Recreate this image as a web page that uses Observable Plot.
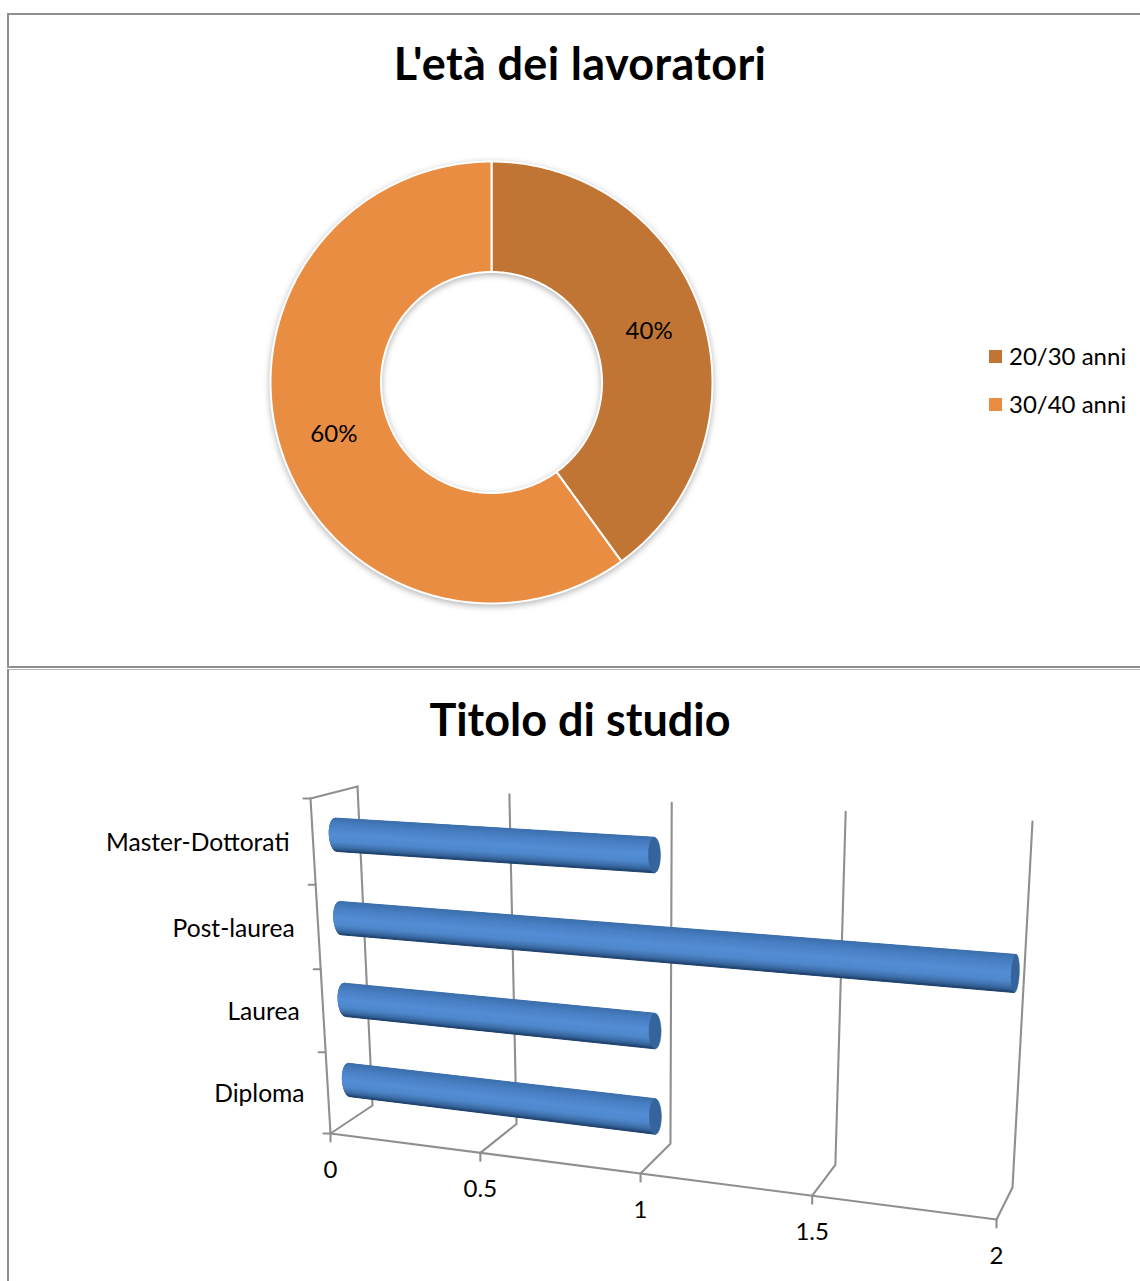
<!DOCTYPE html>
<html lang="it"><head><meta charset="utf-8">
<script src="https://cdn.jsdelivr.net/npm/d3@7"></script>
<script src="https://cdn.jsdelivr.net/npm/@observablehq/plot@0.6"></script>
<style>
html,body{margin:0;background:#fff}
#page{position:relative;width:1140px;height:1281px;overflow:hidden;font-family:Lato,sans-serif;color:#000}
.rule{position:absolute;background:#8f8f8f}
.title{position:absolute;left:0;width:1160px;text-align:center;font-weight:700;font-size:45px;line-height:50px;margin:0}
.plot{position:absolute;left:0;display:block}
#legend{position:absolute;left:989px;top:332px;font-size:24px;line-height:48px;white-space:nowrap}
#legend div{display:flex;align-items:center;height:48px}
#legend i{display:inline-block;width:13px;height:13px;margin-right:7px}
</style></head><body>
<div id="page">
  <div class="rule" style="left:7px;top:13px;width:2px;height:655px"></div>
  <div class="rule" style="left:7px;top:13px;width:1133px;height:2px"></div>
  <div class="rule" style="left:7px;top:666px;width:1133px;height:2px"></div>
  <div class="rule" style="left:7px;top:669px;width:1133px;height:1px;background:#b5b5b5"></div>
  <div class="rule" style="left:7px;top:669px;width:2px;height:612px"></div>
  <h1 class="title" style="top:38px;letter-spacing:.35px">L'età dei lavoratori</h1>
  <h1 class="title" style="top:694px">Titolo di studio</h1>
  <div id="legend"></div>
</div>
<script>
// --- data ---
const ageLabels = ["20/30 anni", "30/40 anni"];
const ageShares = [40, 60];
const ageColors = ["#c07535", "#e98d43"];
const studyLabels = ["Master-Dottorati", "Post-laurea", "Laurea", "Diploma"];
const studyValues = [1, 2, 1, 1];
const valueTicks = [0, 0.5, 1, 1.5, 2];

const page = document.getElementById("page");
const font = "Lato, sans-serif";

// --- donut ---
const holeRatio = 0.5;
const total = d3.sum(ageShares);
const slicePts = [], sliceLabels = [];
let acc = 0;
ageShares.forEach((share, i) => {
  const a0 = acc / total * 2 * Math.PI, a1 = (acc + share) / total * 2 * Math.PI;
  acc += share;
  const ring = [];
  const n = Math.ceil(share * 3);
  for (let k = 0; k <= n; k++) { const a = a0 + (a1 - a0) * k / n; ring.push([Math.sin(a), Math.cos(a)]); }
  for (let k = n; k >= 0; k--) { const a = a0 + (a1 - a0) * k / n; ring.push([holeRatio * Math.sin(a), holeRatio * Math.cos(a)]); }
  ring.push(ring[0]);
  ring.forEach(([x, y]) => slicePts.push({x, y, slice: ageLabels[i]}));
  const m = (a0 + a1) / 2, r = (1 + holeRatio) / 2;
  sliceLabels.push({x: r * Math.sin(m), y: r * Math.cos(m), text: share + "%"});
});
const donut = Plot.plot({
  width: 1140, height: 567, margin: 0,
  x: {domain: [-1, 1], range: [270, 712], axis: null},
  y: {domain: [-1, 1], range: [503, 61], axis: null},
  color: {domain: ageLabels, range: ageColors},
  style: {background: "transparent", overflow: "visible"},
  marks: [
    Plot.line(slicePts, {x: "x", y: "y", z: "slice", fill: "slice", stroke: "white", strokeWidth: 2}),
    Plot.text(sliceLabels, {x: "x", y: "y", dy: 0.5, text: "text", fontSize: 24, fontFamily: font, fill: "black"})
  ]
});
donut.classList.add("plot"); donut.style.top = "100px";
const donutGroup = donut.querySelector('g[aria-label="line"]');
if (donutGroup) donutGroup.style.filter = "drop-shadow(0 2px 3px rgba(0,0,0,.3))";
page.insertBefore(donut, document.getElementById("legend"));

const legend = document.getElementById("legend");
ageLabels.forEach((t, i) => {
  const row = document.createElement("div");
  const sw = document.createElement("i"); sw.style.background = ageColors[i];
  row.append(sw, t); legend.append(row);
});

// --- perspective axes of the 3-D bar chart ---
const plotTop = 770, maxValue = d3.max(valueTicks);
const corners = {
  fb0: [330, 1133], fb1: [996, 1219], bb0: [372, 1105], bb1: [1012, 1187],
  ft0: [310, 798],  ft1: [1011, 838], bt0: [357, 786],  bt1: [1032, 821]
};
const foreshort = 1.148, foreshortUp = 1.04;
const along = v => { const s = v / maxValue; return s / (s + (1 - s) * foreshort); };
const upward = t => t / (t + (1 - t) * foreshortUp);
const mix = (a, b, t) => [a[0] + (b[0] - a[0]) * t, a[1] + (b[1] - a[1]) * t];
// value, depth (0 front, 1 back), height (0 floor, 1 top)
function project(v, d, h) {
  const s = along(v), c = corners;
  const fb = mix(c.fb0, c.fb1, s), bb = mix(c.bb0, c.bb1, s);
  const ft = mix(c.ft0, c.ft1, s), bt = mix(c.bt0, c.bt1, s);
  const p = mix(mix(fb, bb, d), mix(ft, bt, d), h);
  return {x: p[0], y: p[1] - plotTop};
}
const catHeight = i => upward((studyLabels.length - 1 - i + 0.5) / studyLabels.length);

// grid
const grid = [];
valueTicks.forEach(v => {
  [[v,0,0],[v,1,0],[v,1,1]].forEach(q => grid.push({...project(...q), id: "g" + v}));
  const p = project(v, 0, 0);
  grid.push({x:p.x, y:p.y, id:"t"+v}, {x:p.x, y:p.y+8, id:"t"+v});
});
[[0,0,0],[maxValue,0,0]].forEach(q => grid.push({...project(...q), id: "floor"}));
[[0,0,0],[0,0,1],[0,1,1]].forEach(q => grid.push({...project(...q), id: "wall"}));
d3.range(studyLabels.length + 1).forEach(k => {
  const p = project(0, 0, upward(k / studyLabels.length));
  grid.push({x:p.x, y:p.y, id:"c"+k}, {x:p.x-7, y:p.y, id:"c"+k});
});

// cylinders
const radius = 0.051;
const shade = d3.scaleLinear()
  .domain([0, .22, .5, .72, .86, .95, 1])
  .range(["#3c6fad", "#4a80c4", "#548ed6", "#4f88cc", "#3f71ac", "#2f5a8e", "#1f3d63"])
  .interpolate(d3.interpolateRgb);
const depthWidth = v => 7 - 0.5 * v - 0.5 * v * v;
const bases = [], strips = [], caps = [];
const N = 36;
studyValues.forEach((v, i) => {
  const h = catHeight(i);
  const pt = (val, t, round) => {
    const th = Math.asin(1 - 2 * t);
    const p = project(val, 0.5, h + radius * (1 - 2 * t));
    return {x: p.x - (round ? depthWidth(val) * Math.cos(th) : 0), y: p.y};
  };
  for (let k = 0; k < N; k++) {
    const t0 = k / N, t1 = (k + 1) / N;
    const id = i + "-" + k, color = shade((t0 + t1) / 2);
    const a = pt(0, t0, true), b = pt(v, t0, false), c = pt(v, t1, false), d = pt(0, t1, true);
    [a, b, c, d, a].forEach(p => strips.push({...p, id, color}));
  }
  const outline = [];
  for (let k = 0; k <= N; k++) outline.push(pt(0, k / N, true));
  outline.push(pt(v, 1, false), pt(v, 0, false), outline[0]);
  outline.forEach(p => bases.push({...p, id: "base" + i}));
  const M = 48;
  for (let k = 0; k <= M; k++) {
    const th = k / M * 2 * Math.PI;
    const p = project(v, 0.5, h + radius * Math.sin(th));
    caps.push({x: p.x + depthWidth(v) * Math.cos(th), y: p.y, id: "cap" + i, color: "#35649d"});
  }
});

const catText = studyLabels.map((t, i) => {
  const p = project(0, 0, catHeight(i));
  return {x: p.x - 23.5, y: p.y + 1.5, t};
});
const valText = valueTicks.map(v => {
  const p = project(v, 0, 0);
  return {x: p.x, y: p.y + 36.5, t: String(v)};
});

const bars = Plot.plot({
  width: 1140, height: 511, margin: 0,
  x: {domain: [0, 1140], range: [0, 1140], axis: null},
  y: {domain: [0, 511], range: [0, 511], axis: null},
  color: {type: "identity"},
  style: {background: "transparent", overflow: "visible"},
  marks: [
    Plot.line(grid, {x: "x", y: "y", z: "id", stroke: "#8f8f8f", strokeWidth: 2.1, strokeLinejoin: "round"}),
    Plot.line(bases, {x: "x", y: "y", z: "id", fill: "#3f71ac", stroke: "none"}),
    Plot.line(strips, {x: "x", y: "y", z: "id", fill: "color", stroke: "color", strokeWidth: 1}),
    Plot.line(caps, {x: "x", y: "y", z: "id", fill: "color", stroke: "color", strokeWidth: 0.5}),
    Plot.text(catText, {x: "x", y: "y", text: "t", textAnchor: "end", fontSize: 24.6, fontFamily: font, fill: "black"}),
    Plot.text(valText, {x: "x", y: "y", text: "t", fontSize: 24, fontFamily: font, fill: "black"})
  ]
});
bars.classList.add("plot"); bars.style.top = plotTop + "px";
page.insertBefore(bars, document.getElementById("legend"));
</script>
</body></html>
